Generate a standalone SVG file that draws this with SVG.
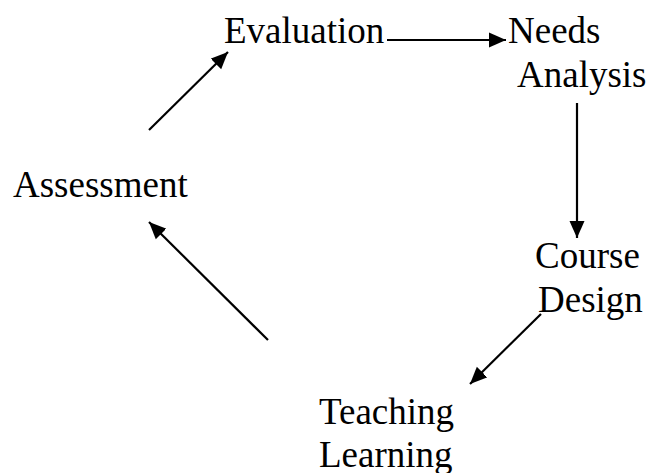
<svg xmlns="http://www.w3.org/2000/svg" width="648" height="473" viewBox="0 0 648 473">
<style>
text{font-family:"Liberation Serif","Times New Roman",serif;font-size:37px;fill:#000}
.c line{stroke:#000;stroke-width:2.2;fill:none}
</style>
<defs>
<marker id="ah" markerUnits="userSpaceOnUse" markerWidth="18" markerHeight="16" refX="17" refY="8" orient="auto">
<path d="M0,0.5 L17,8 L0,15.5 Z" fill="#000"/>
</marker>
</defs>
<rect width="648" height="473" fill="#fff"/>
<g id="evaluation"><text x="224" y="43">Evaluation</text></g>
<g id="needs-analysis"><text x="508" y="43">Needs</text><text x="517" y="87">Analysis</text></g>
<g id="course-design"><text x="535" y="268">Course</text><text x="538" y="312">Design</text></g>
<g id="teaching-learning"><text x="319" y="424">Teaching</text><text x="319" y="467">Learning</text></g>
<g id="assessment"><text x="13" y="197">Assessment</text></g>
<g class="c" id="connectors">
<line x1="387" y1="40" x2="506" y2="40" marker-end="url(#ah)"/>
<line x1="577" y1="103" x2="577" y2="238" marker-end="url(#ah)"/>
<line x1="541" y1="314" x2="470" y2="384" marker-end="url(#ah)"/>
<line x1="268" y1="340" x2="149" y2="222" marker-end="url(#ah)"/>
<line x1="149" y1="130" x2="228" y2="52" marker-end="url(#ah)"/>
</g>
</svg>
